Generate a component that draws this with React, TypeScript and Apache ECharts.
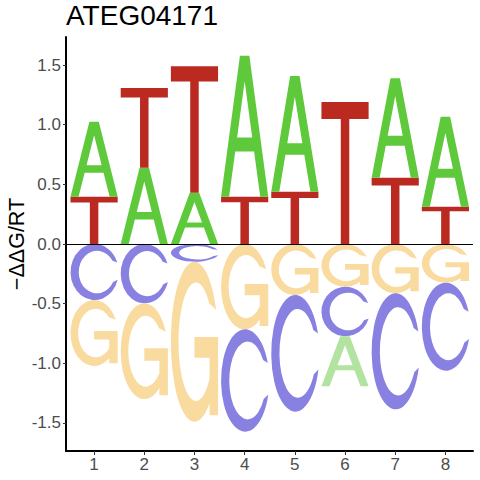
import React, { useEffect, useRef } from "react";
import * as echarts from "echarts";

const TITLE = "ATEG04171";
const Y_TITLE = "\u2212\u0394\u0394G/RT";
const POSITIONS = [1, 2, 3, 4, 5, 6, 7, 8];
const LETTERS = ["A", "C", "G", "T"];
const A_VALUES = [0.63, 0.64, 0.43, 1.18, 0.97, -0.42, 0.834, 0.754];
const C_VALUES = [-0.47, -0.497, -0.148, -0.858, -0.978, -0.415, -0.973, -0.738];
const G_VALUES = [-0.552, -0.803, -1.342, -0.715, -0.427, -0.358, -0.413, -0.324];
const T_VALUES = [0.395, 0.667, 1.06, 0.397, 0.438, 1.19, 0.556, 0.313];
const Y_TICKS = [-1.5, -1.0, -0.5, 0.0, 0.5, 1.0, 1.5];
const X_TICKS = POSITIONS;

const POS_COLORS: Record<string, string> = {
  A: "#5EC93B",
  C: "#4A42D6",
  G: "#F4B844",
  T: "#BA2A20",
};
const NEG_COLORS: Record<string, string> = {
  A: "#B2E3A0",
  C: "#8881E2",
  G: "#F9DBA0",
  T: "#DE958F",
};

const GLYPHS: Record<string, string> = {
  A: "M0,100 L40,0 L60,0 L100,100 L83,100 L70,68 L30,68 L17,100 Z M34,58 L66,58 L50,18 Z",
  T: "M0,0 L100,0 L100,12 L59,12 L59,100 L41,100 L41,12 L0,12 Z",
  C: "M97,33 A50,50 0 1 0 98,64 L88.5,68 A38,38 0 1 1 87.3,30 Z",
  G: "M95.8,30 A50,50 0 1 0 82,88.4 L82,96 L100,96 L100,47 L50,47 L50,60 L82,60 L82,73 A37,37 0 1 1 81.2,26 Z",
};

const FONT = "'Liberation Sans', Arial, sans-serif";
const HALF_WIDTH = 0.47;

function buildStacks() {
  const valuesByLetter: Record<string, number[]> = {
    A: A_VALUES,
    C: C_VALUES,
    G: G_VALUES,
    T: T_VALUES,
  };
  const items: number[][] = [];
  POSITIONS.forEach((pos, i) => {
    const entries = LETTERS.map((l, li) => ({ li, v: valuesByLetter[l][i] }));
    const up = entries.filter((e) => e.v > 0).sort((a, b) => a.v - b.v);
    const down = entries.filter((e) => e.v < 0).sort((a, b) => b.v - a.v);
    let acc = 0;
    up.forEach((e) => {
      items.push([pos, acc, acc + e.v, e.li, 1]);
      acc += e.v;
    });
    acc = 0;
    down.forEach((e) => {
      items.push([pos, acc + e.v, acc, e.li, -1]);
      acc += e.v;
    });
  });
  return items;
}

export default function App() {
  const ref = useRef<HTMLDivElement>(null);
  useEffect(() => {
    if (!ref.current) return;
    const chart = echarts.init(ref.current, null, { renderer: "svg" });
    const data = buildStacks();
    const option: any = {
      animation: false,
      backgroundColor: "#ffffff",
      title: {
        text: TITLE,
        left: 66,
        top: 1,
        padding: 0,
        textStyle: { fontSize: 28, fontWeight: "normal", color: "#000", fontFamily: FONT },
      },
      grid: { left: 66, right: 7, top: 37, bottom: 29, containLabel: false },
      xAxis: {
        type: "value",
        min: 0.44,
        max: 8.55,
        splitLine: { show: false },
        axisLine: { show: true, onZero: false, lineStyle: { color: "#000", width: 2 } },
        axisTick: { show: true, customValues: X_TICKS, length: 4, lineStyle: { color: "#333", width: 1 } },
        axisLabel: {
          customValues: X_TICKS,
          margin: 5,
          color: "#4D4D4D",
          fontSize: 17,
          fontFamily: FONT,
          formatter: (v: number) => String(v),
        },
      },
      yAxis: {
        type: "value",
        min: -1.735,
        max: 1.735,
        splitLine: { show: false },
        axisLine: { show: true, onZero: false, lineStyle: { color: "#000", width: 2 } },
        axisTick: { show: true, customValues: Y_TICKS, length: 3, lineStyle: { color: "#333", width: 1 } },
        axisLabel: {
          customValues: Y_TICKS,
          margin: 5,
          color: "#4D4D4D",
          fontSize: 17,
          fontFamily: FONT,
          formatter: (v: number) => v.toFixed(1),
        },
      },
      graphic: [
        {
          type: "text",
          x: 17,
          y: 244,
          rotation: Math.PI / 2,
          style: {
            text: Y_TITLE,
            fontSize: 21.5,
            fontFamily: FONT,
            fill: "#000",
            align: "center",
            verticalAlign: "middle",
            textAlign: "center",
            textVerticalAlign: "middle",
          },
        },
      ],
      series: [
        {
          type: "custom",
          data,
          encode: { x: 0, y: [1, 2] },
          renderItem: (params: any, api: any) => {
            const x = api.value(0);
            const lo = api.value(1);
            const hi = api.value(2);
            const letter = LETTERS[api.value(3)];
            const sign = api.value(4);
            const tl = api.coord([x - HALF_WIDTH, hi]);
            const br = api.coord([x + HALF_WIDTH, lo]);
            return {
              type: "path",
              shape: {
                pathData: GLYPHS[letter],
                x: tl[0],
                y: tl[1],
                width: br[0] - tl[0],
                height: br[1] - tl[1],
                layout: "cover",
              },
              style: { fill: sign > 0 ? POS_COLORS[letter] : NEG_COLORS[letter] },
            };
          },
          markLine: {
            silent: true,
            symbol: ["none", "none"],
            label: { show: false },
            lineStyle: { color: "#000", width: 1, type: "solid" },
            data: [{ yAxis: 0 }],
          },
        },
      ],
    };
    chart.setOption(option);
    return () => chart.dispose();
  }, []);
  return (
    <div
      ref={ref}
      style={{ position: "fixed", left: 0, top: 0, width: 480, height: 480, background: "#fff" }}
    />
  );
}
